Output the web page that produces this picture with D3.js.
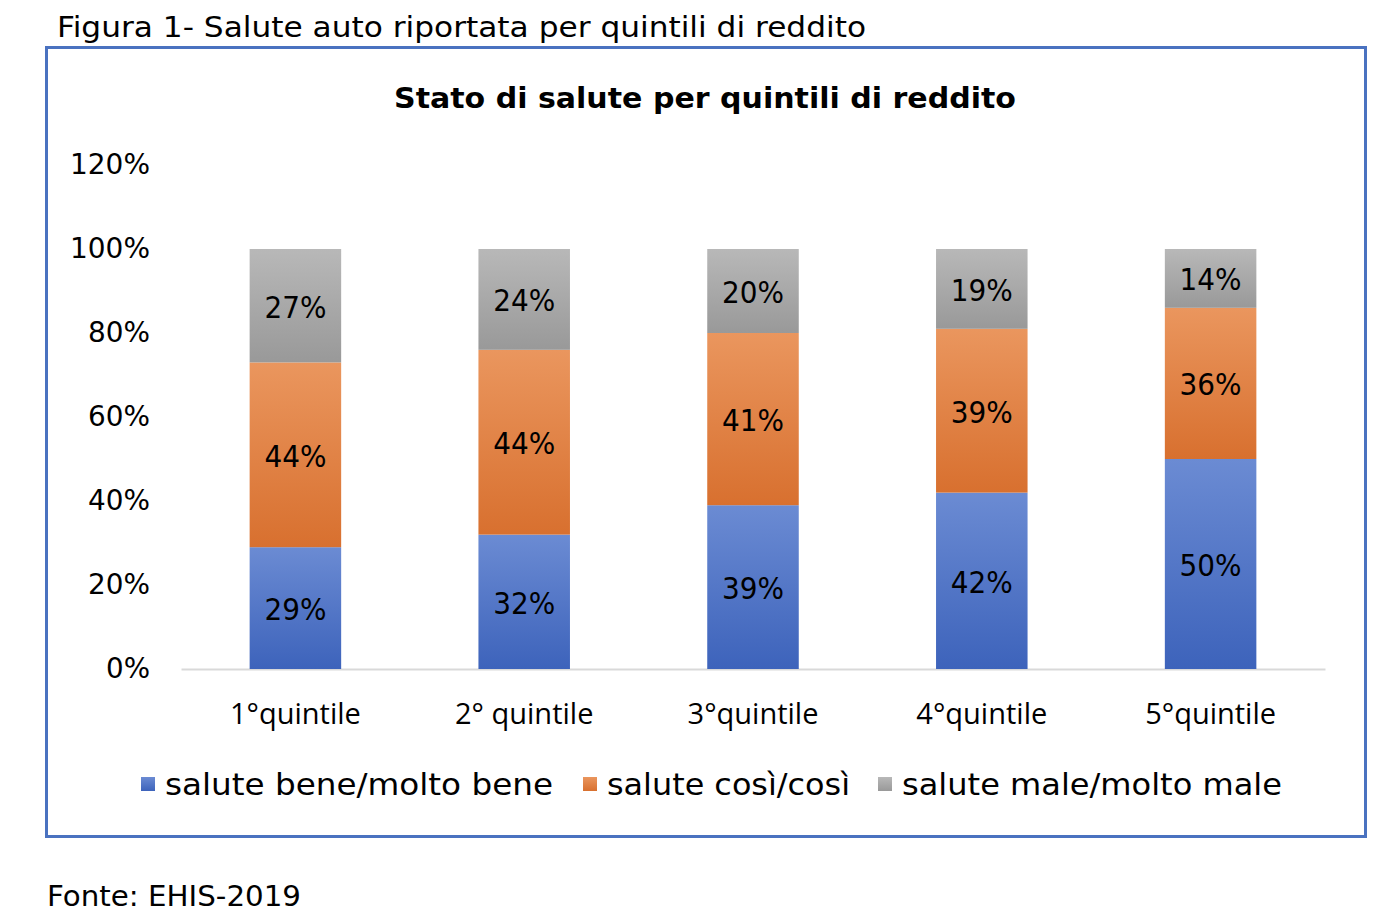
<!DOCTYPE html>
<html><head><meta charset="utf-8">
<script src="https://cdn.jsdelivr.net/npm/d3@7"></script>
<style>body{margin:0;background:#fff}svg{display:block}</style>
</head><body>
<script>
const categories = ["1°quintile","2° quintile","3°quintile","4°quintile","5°quintile"];
const seriesNames = ["salute bene/molto bene","salute così/così","salute male/molto male"];
const bene = [29,32,39,42,50];
const cosi = [44,44,41,39,36];
const male = [27,24,20,19,14];
const yTicks = [0,20,40,60,80,100,120];

const W=1386,H=924;
const svg=d3.select("body").append("svg").attr("width",W).attr("height",H);
const defs=svg.append("defs");
const grads=[["gBlue","#6b8bd3","#3d63bb"],["gOrange","#ea965e","#d8702f"],["gGray","#b8b8b8","#999999"]];
grads.forEach(([id,c1,c2])=>{
  const g=defs.append("linearGradient").attr("id",id).attr("x1",0).attr("y1",0).attr("x2",0).attr("y2",1);
  g.append("stop").attr("offset","0%").attr("stop-color",c1);
  g.append("stop").attr("offset","100%").attr("stop-color",c2);
});
const gothic="'DejaVu Sans', sans-serif";
const calibri="'Open Sans', 'Liberation Sans', sans-serif";

svg.append("text").attr("x",57).attr("y",37).attr("font-family",gothic).attr("font-size",29)
  .attr("textLength",809).attr("lengthAdjust","spacingAndGlyphs")
  .text("Figura 1- Salute auto riportata per quintili di reddito");
svg.append("rect").attr("x",46.5).attr("y",47.5).attr("width",1319).attr("height",789)
  .attr("fill","none").attr("stroke","#4a72c0").attr("stroke-width",3);
svg.append("text").attr("x",705).attr("y",108).attr("text-anchor","middle").attr("font-family",gothic)
  .attr("font-weight","bold").attr("font-size",29).attr("textLength",622).attr("lengthAdjust","spacingAndGlyphs")
  .text("Stato di salute per quintili di reddito");
svg.append("text").attr("x",47).attr("y",906).attr("font-family",gothic).attr("font-size",29)
  .attr("textLength",254).attr("lengthAdjust","spacingAndGlyphs").text("Fonte: EHIS-2019");

const x=d3.scaleBand().domain(categories).range([181,1325]).paddingInner(0.6).paddingOuter(0.3);
const y=d3.scaleLinear().domain([0,120]).range([669,165]);

const yAxis=svg.append("g").attr("transform","translate(150,0)")
  .call(d3.axisLeft(y).tickValues(yTicks).tickSize(0).tickPadding(0).tickFormat(d=>d+"%"));
yAxis.select(".domain").remove();
yAxis.selectAll("text").attr("font-family",gothic).attr("font-size",28).attr("fill","#000")
  .attr("textLength",function(d){return d>=100?80:(d===0?44:62);}).attr("lengthAdjust","spacingAndGlyphs");

const xAxis=svg.append("g").attr("transform","translate(0,669)")
  .call(d3.axisBottom(x).tickSize(0).tickPadding(34));
xAxis.select(".domain").attr("stroke","#d9d9d9").attr("stroke-width",2);
xAxis.selectAll("text").attr("font-family",calibri).attr("font-size",29).attr("font-weight",500).attr("fill","#000");

const rows=categories.map((c,i)=>({cat:c,bene:bene[i],cosi:cosi[i],male:male[i]}));
const keys=["bene","cosi","male"];
const stack=d3.stack().keys(keys)(rows);
const fills=["url(#gBlue)","url(#gOrange)","url(#gGray)"];
stack.forEach((layer,k)=>{
  const g=svg.append("g");
  g.selectAll("rect").data(layer).join("rect")
    .attr("x",d=>x(d.data.cat)).attr("width",x.bandwidth())
    .attr("y",d=>y(d[1])).attr("height",d=>y(d[0])-y(d[1])).attr("fill",fills[k]);
  g.selectAll("text").data(layer).join("text")
    .attr("x",d=>x(d.data.cat)+x.bandwidth()/2).attr("y",d=>(y(d[0])+y(d[1]))/2+1)
    .attr("dy","0.36em").attr("text-anchor","middle").attr("font-family",gothic).attr("font-size",30)
    .attr("textLength",62).attr("lengthAdjust","spacingAndGlyphs")
    .text(d=>(d[1]-d[0])+"%");
});

// legend
const legX=[141,583,878], legTW=[388,243,380];
seriesNames.forEach((n,i)=>{
  svg.append("rect").attr("x",legX[i]).attr("y",777).attr("width",14).attr("height",14).attr("fill",fills[i]);
  svg.append("text").attr("x",legX[i]+24).attr("y",795).attr("font-family",gothic).attr("font-size",30)
    .attr("textLength",legTW[i]).attr("lengthAdjust","spacingAndGlyphs").text(n);
});
</script>
</body></html>
